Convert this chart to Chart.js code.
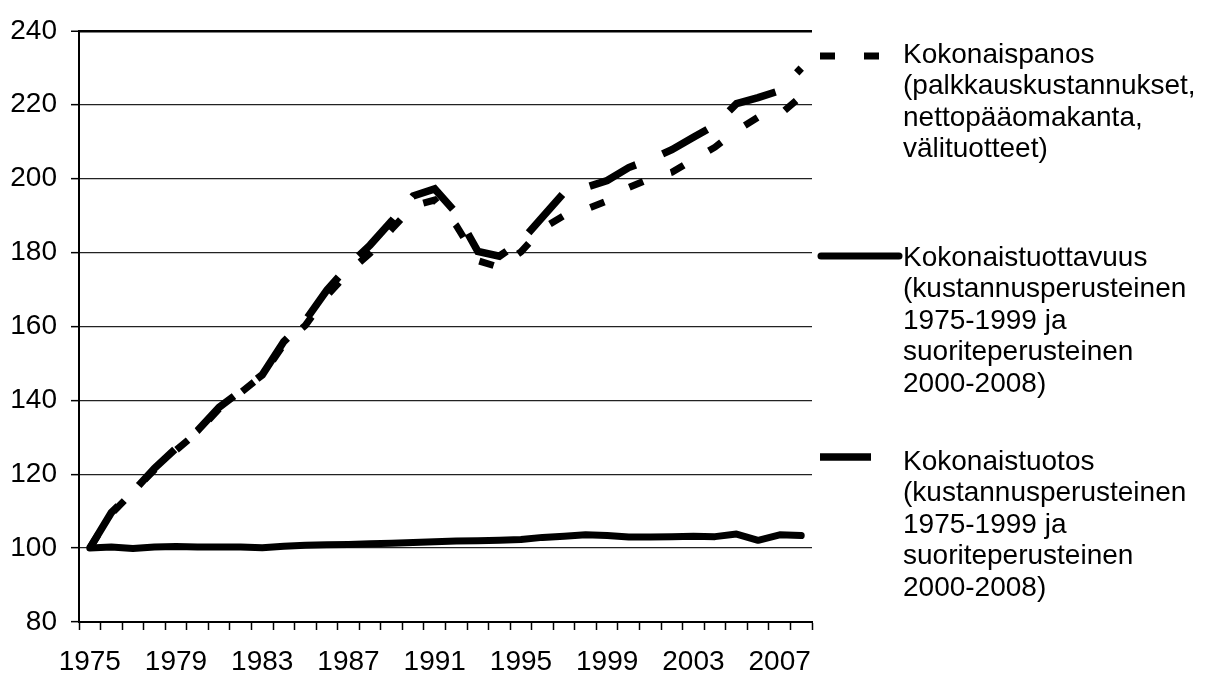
<!DOCTYPE html>
<html>
<head>
<meta charset="utf-8">
<script src="https://cdn.jsdelivr.net/npm/chart.js@4.4.0/dist/chart.umd.min.js"></script>
<style>
  html, body { margin: 0; padding: 0; background: #fff; }
  #wrap { width: 1207px; height: 675px; }
</style>
</head>
<body>
<div id="wrap"><canvas id="kuvio" width="1207" height="675"></canvas></div>
<script>
var vuodet = ['1975', '1976', '1977', '1978', '1979', '1980', '1981', '1982', '1983', '1984',
  '1985', '1986', '1987', '1988', '1989', '1990', '1991', '1992', '1993', '1994',
  '1995', '1996', '1997', '1998', '1999', '2000', '2001', '2002', '2003', '2004',
  '2005', '2006', '2007', '2008'];

var kokonaispanos = [100, 109.3, 115.2, 121.2, 126.5, 131.4, 137.7, 142.1, 146.7, 155.1,
  160.3, 168.3, 174.7, 179.8, 186.3, 192.6, 194.2, 187.3, 177.8, 176.0,
  180.2, 186.5, 190.0, 191.7, 194.0, 197.6, 200.0, 201.7, 205.2, 208.5,
  213.0, 216.6, 217.3, 222.3];

var kokonaistuottavuus = [100, 100.3, 99.9, 100.3, 100.4, 100.3, 100.3, 100.3, 100.1, 100.5,
  100.8, 100.9, 101.0, 101.2, 101.3, 101.5, 101.7, 101.9, 102.0, 102.1,
  102.3, 102.9, 103.2, 103.6, 103.4, 103.0, 103.0, 103.1, 103.2, 103.1,
  103.8, 102.1, 103.6, 103.4];

var kokonaistuotos = [100, 109.6, 115.2, 121.6, 127.0, 131.8, 138.1, 142.5, 146.9, 155.9,
  161.6, 169.8, 176.4, 182.0, 188.5, 195.3, 197.2, 190.7, 180.3, 179.0,
  183.0, 189.6, 196.2, 197.6, 199.5, 203.0, 205.2, 207.8, 211.2, 214.5,
  220.3, 221.9, 223.8, 229.9];

var yMin = 80;
var yMax = 240;
var yVali = 20;

// selitteiden tekstirivit
var selitteet = [
  ['Kokonaispanos', '(palkkauskustannukset,', 'nettopääomakanta,', 'välituotteet)'],
  ['Kokonaistuottavuus', '(kustannusperusteinen', '1975-1999 ja', 'suoriteperusteinen', '2000-2008)'],
  ['Kokonaistuotos', '(kustannusperusteinen', '1975-1999 ja', 'suoriteperusteinen', '2000-2008)']
];

var fontti = '"Liberation Sans", Arial, sans-serif';

// oma selite oikealle puolelle, viivanäyte + monirivinen teksti
var selitePlugin = {
  id: 'selite',
  afterDraw: function (chart) {
    var ctx = chart.ctx;
    var viivaY = [56, 256, 457];
    var tekstiY = [55, 258, 462];
    var riviVali = 31.5;

    chart.data.datasets.forEach(function (ds, i) {
      ctx.save();
      ctx.strokeStyle = ds.borderColor;
      ctx.lineWidth = ds.borderWidth;
      ctx.lineCap = ds.borderCapStyle;
      ctx.setLineDash(ds.borderDash || []);
      ctx.beginPath();
      if (ds.borderCapStyle === 'round') {
        ctx.moveTo(821, viivaY[i]);
        ctx.lineTo(899, viivaY[i]);
      } else {
        ctx.moveTo(820, viivaY[i]);
        ctx.lineTo(900, viivaY[i]);
      }
      ctx.stroke();
      ctx.restore();

      ctx.save();
      ctx.fillStyle = '#000';
      ctx.font = '28px ' + fontti;
      ctx.textBaseline = 'middle';
      ctx.textAlign = 'left';
      selitteet[i].forEach(function (rivi, k) {
        ctx.fillText(rivi, 903, tekstiY[i] + k * riviVali);
      });
      ctx.restore();
    });
  }
};

const ctx = document.getElementById('kuvio').getContext('2d');
const kuvio = new Chart(ctx, {
  type: 'line',
  data: {
    labels: vuodet,
    datasets: [{
      label: selitteet[0][0],
      data: kokonaispanos,
      borderColor: '#000',
      borderWidth: 7,
      borderDash: [15, 29],
      borderCapStyle: 'butt',
      borderJoinStyle: 'miter',
      pointRadius: 0,
      tension: 0,
      fill: false
    }, {
      label: selitteet[1][0],
      data: kokonaistuottavuus,
      borderColor: '#000',
      borderWidth: 7,
      borderCapStyle: 'round',
      borderJoinStyle: 'round',
      pointRadius: 0,
      tension: 0,
      fill: false
    }, {
      label: selitteet[2][0],
      data: kokonaistuotos,
      borderColor: '#000',
      borderWidth: 7.5,
      borderDash: [51, 29],
      borderCapStyle: 'butt',
      borderJoinStyle: 'miter',
      pointRadius: 0,
      tension: 0,
      fill: false
    }]
  },
  options: {
    responsive: false,
    animation: false,
    devicePixelRatio: 1,
    layout: {
      padding: { left: 0, top: 22, right: 395, bottom: 0 }
    },
    plugins: {
      legend: { display: false },
      tooltip: { enabled: false }
    },
    scales: {
      x: {
        offset: true,
        grid: {
          offset: true,
          drawOnChartArea: false,
          drawTicks: true,
          tickLength: 8,
          tickColor: '#000',
          tickWidth: 1.5
        },
        border: { display: true, color: '#000', width: 2 },
        ticks: {
          autoSkip: false,
          maxRotation: 0,
          minRotation: 0,
          padding: 15,
          color: '#000',
          font: { family: fontti, size: 28, lineHeight: 1.2 },
          callback: function (val, index) {
            return index % 4 === 0 ? this.getLabelForValue(val) : '';
          }
        },
        afterFit: function (scale) { scale.height = 53; }
      },
      y: {
        min: yMin,
        max: yMax,
        grid: {
          color: function (c) { return c.tick && c.tick.value === yMax ? '#000' : '#222'; },
          lineWidth: function (c) { return c.tick && c.tick.value === yMax ? 2.5 : 1.3; },
          drawTicks: true,
          tickLength: 8,
          tickColor: '#000',
          tickWidth: 1.5
        },
        border: { display: true, color: '#000', width: 2 },
        ticks: {
          stepSize: yVali,
          padding: 14,
          color: '#000',
          font: { family: fontti, size: 28 }
        },
        afterFit: function (scale) { scale.width = 79; }
      }
    }
  },
  plugins: [selitePlugin]
});
</script>
</body>
</html>
